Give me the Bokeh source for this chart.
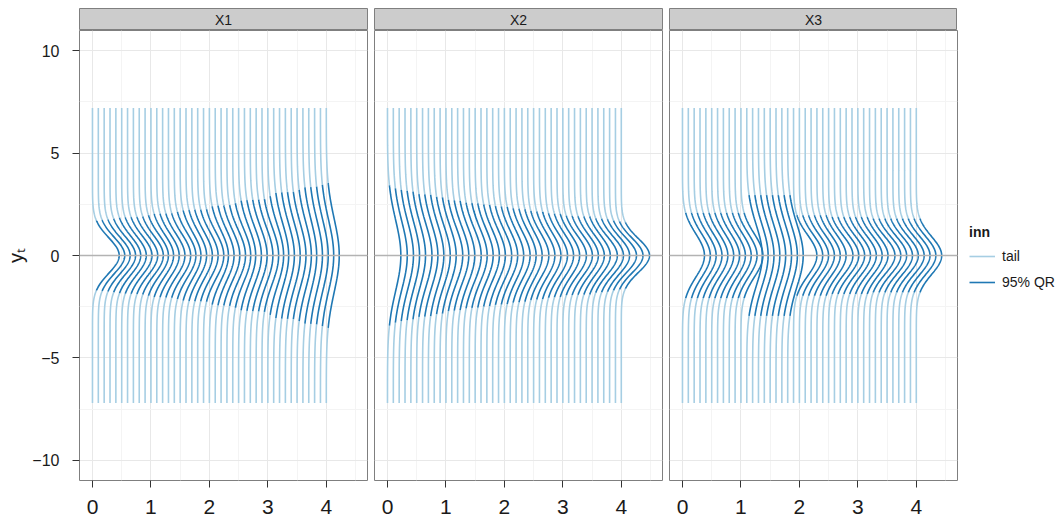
import numpy as np
from bokeh.plotting import figure
from bokeh.layouts import row, column
from bokeh.models import (Range1d, FixedTicker, Grid, Legend, LegendItem, Span)
from bokeh.core.properties import value
from bokeh.embed import file_html
from bokeh.resources import INLINE

# ---------------- data ----------------
panels = ["X1", "X2", "X3"]
times = [0.0, 0.1, 0.2, 0.3, 0.4, 0.5, 0.6, 0.7, 0.8, 0.9,
         1.0, 1.1, 1.2, 1.3, 1.4, 1.5, 1.6, 1.7, 1.8, 1.9,
         2.0, 2.1, 2.2, 2.3, 2.4, 2.5, 2.6, 2.7, 2.8, 2.9,
         3.0, 3.1, 3.2, 3.3, 3.4, 3.5, 3.6, 3.7, 3.8, 3.9, 4.0]
# half-width of the 95% quantile range at each time
qr_half_x1 = [1.71, 1.73, 1.76, 1.79, 1.84, 1.86, 1.87, 1.88, 1.90, 1.96,
              2.02, 2.04, 2.05, 2.06, 2.12, 2.20, 2.22, 2.23, 2.24, 2.26,
              2.40, 2.43, 2.44, 2.46, 2.55, 2.68, 2.70, 2.72, 2.73, 2.75,
              2.90, 3.05, 3.08, 3.09, 3.10, 3.20, 3.32, 3.34, 3.36, 3.45, 3.53]
qr_half_x2 = [3.42, 3.28, 3.20, 3.15, 3.12, 3.00, 2.98, 2.96, 2.86, 2.84,
              2.72, 2.69, 2.67, 2.58, 2.56, 2.54, 2.49, 2.47, 2.41, 2.39,
              2.37, 2.30, 2.28, 2.26, 2.17, 2.15, 2.13, 2.06, 2.04, 2.02,
              1.94, 1.93, 1.92, 1.91, 1.90, 1.81, 1.79, 1.77, 1.70, 1.66, 1.62]
qr_half_x3 = [2.08, 2.08, 2.08, 2.08, 2.08, 2.08, 2.08, 2.08, 2.08, 2.08,
              2.08, 2.95, 2.95, 2.95, 2.95, 2.95, 2.95, 2.95, 2.95, 1.96,
              1.96, 1.96, 1.96, 1.96, 1.96, 1.88, 1.88, 1.88, 1.88, 1.88,
              1.88, 1.88, 1.80, 1.80, 1.80, 1.80, 1.80, 1.80, 1.80, 1.80, 1.80]
qr_halves = [qr_half_x1, qr_half_x2, qr_half_x3]
tail_limit = 7.2
legend_title = "inn"
legend_labels = ["tail", "95% QR"]
x_ticks = [0, 1, 2, 3, 4]
x_minor = [0.5, 1.5, 2.5, 3.5, 4.5]
y_ticks = [-10, -5, 0, 5, 10]
y_minor = [-7.5, -2.5, 2.5, 7.5]
y_label = "yₜ"

# ---------------- styling ----------------
FONT = "Liberation Sans"
TAIL_COLOR = "#a6cee3"
QR_COLOR = "#1f78b4"
BORDER = "#7f7f7f"
TOP = 8
LEFT = 79
FW = 288
GAP = 7
STRIP_H = 22
FH = 450
LEG_W = 106

x_range = Range1d(-0.222, 4.705)
y_range = Range1d(-10.98, 10.98)


def build_curves(halves):
    tx, ty, qx, qy = [], [], [], []
    for t, hw in zip(times, halves):
        sd = hw / 1.959964

        def dens(y):
            return np.exp(-0.5 * (y / sd) ** 2) / (sd * np.sqrt(2 * np.pi))

        ylo = np.linspace(-tail_limit, -hw, 90)
        ymid = np.linspace(-hw, hw, 140)
        yhi = np.linspace(hw, tail_limit, 90)
        for ys in (ylo, yhi):
            tx.append((t + dens(ys)).tolist())
            ty.append(ys.tolist())
        qx.append((t + dens(ymid)).tolist())
        qy.append(ymid.tolist())
    return tx, ty, qx, qy


def make_strip(label, left, right):
    s = figure(frame_width=FW, frame_height=STRIP_H,
               x_range=Range1d(0, 1), y_range=Range1d(0, 1),
               x_axis_location=None, y_axis_location=None,
               toolbar_location=None, output_backend="svg",
               min_border_left=left, min_border_right=right,
               min_border_top=TOP, min_border_bottom=0)
    s.center = [r for r in s.center if not isinstance(r, Grid)]
    s.background_fill_color = "#cccccc"
    s.border_fill_color = "white"
    s.outline_line_color = BORDER
    s.outline_line_width = 1
    s.text(x=[0.5], y=[0.5], text=[label], text_align="center",
           text_baseline="middle", text_font=value(FONT),
           text_font_size="14px", text_color="#1a1a1a")
    return s


strips = []
plots = []
for i, name in enumerate(panels):
    first = i == 0
    last = i == len(panels) - 1
    strips.append(make_strip(name, LEFT if first else 0, 0 if last else GAP))

    p = figure(frame_width=FW, frame_height=FH, x_range=x_range, y_range=y_range,
               y_axis_location="left" if first else None,
               toolbar_location=None, output_backend="svg",
               min_border_left=LEFT if first else 0,
               min_border_right=LEG_W if last else GAP,
               min_border_top=0, min_border_bottom=0)
    p.center = [r for r in p.center if not isinstance(r, Grid)]
    p.add_layout(Grid(dimension=0, ticker=FixedTicker(ticks=x_ticks, minor_ticks=x_minor),
                      grid_line_color="#e8e8e8", grid_line_width=1,
                      minor_grid_line_color="#f4f4f4", minor_grid_line_width=1))
    p.add_layout(Grid(dimension=1, ticker=FixedTicker(ticks=y_ticks, minor_ticks=y_minor),
                      grid_line_color="#e8e8e8", grid_line_width=1,
                      minor_grid_line_color="#f4f4f4", minor_grid_line_width=1))
    p.background_fill_color = "white"
    p.border_fill_color = "white"
    p.outline_line_color = BORDER
    p.outline_line_width = 1

    xa = p.xaxis[0]
    xa.ticker = FixedTicker(ticks=x_ticks)
    xa.axis_line_color = None
    xa.major_tick_out = 7
    xa.major_tick_in = 0
    xa.minor_tick_line_color = None
    xa.major_tick_line_color = "#333333"
    xa.major_label_standoff = 12
    xa.major_label_text_font = FONT
    xa.major_label_text_font_size = "21px"
    xa.major_label_text_color = "#1a1a1a"

    if first:
        ya = p.yaxis[0]
        ya.ticker = FixedTicker(ticks=y_ticks)
        ya.axis_line_color = None
        ya.major_tick_out = 7
        ya.major_tick_in = 0
        ya.minor_tick_line_color = None
        ya.major_tick_line_color = "#333333"
        ya.major_label_standoff = 13
        ya.major_label_text_font = FONT
        ya.major_label_text_font_size = "16px"
        ya.major_label_text_color = "#1a1a1a"
        ya.axis_label = y_label
        ya.axis_label_text_font = FONT
        ya.axis_label_text_font_size = "20px"
        ya.axis_label_text_font_style = "normal"
        ya.axis_label_text_color = "#1a1a1a"
        ya.axis_label_standoff = 2

    tx, ty, qx, qy = build_curves(qr_halves[i])
    r_tail = p.multi_line(xs=tx, ys=ty, line_color=TAIL_COLOR, line_width=1.6)
    r_qr = p.multi_line(xs=qx, ys=qy, line_color=QR_COLOR, line_width=1.6)
    p.add_layout(Span(location=0, dimension="width", line_color="#b3b3b3", line_width=1.5))

    if last:
        leg = Legend(items=[LegendItem(label=legend_labels[0], renderers=[r_tail]),
                            LegendItem(label=legend_labels[1], renderers=[r_qr])],
                     title=legend_title, location=(12, 185), orientation="vertical",
                     glyph_width=26, glyph_height=26, label_height=26,
                     label_standoff=7, spacing=0, padding=0, margin=0,
                     border_line_color=None, background_fill_alpha=0,
                     title_text_font=FONT, title_text_font_style="bold",
                     title_text_font_size="14px", title_text_color="#1a1a1a",
                     label_text_font=FONT, label_text_font_size="14px",
                     label_text_color="#1a1a1a", title_standoff=3)
        p.add_layout(leg, "right")
    plots.append(p)

layout = column(row(*strips), row(*plots))

with open("out.html", "w") as f:
    f.write(file_html(layout, INLINE))
